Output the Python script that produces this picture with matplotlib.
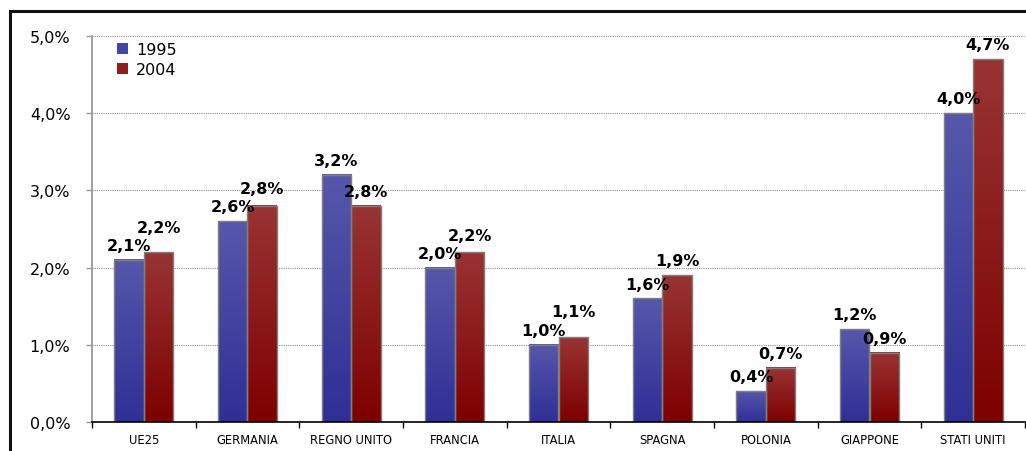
import numpy as np
import matplotlib
matplotlib.use("Agg")
import matplotlib.pyplot as plt
from matplotlib.colors import LinearSegmentedColormap
from matplotlib.patches import Rectangle, Patch
from matplotlib.ticker import FuncFormatter

# data
paesi = ["UE25", "GERMANIA", "REGNO UNITO", "FRANCIA", "ITALIA",
         "SPAGNA", "POLONIA", "GIAPPONE", "STATI UNITI"]
anni = ["1995", "2004"]
val_1995 = [2.1, 2.6, 3.2, 2.0, 1.0, 1.6, 0.4, 1.2, 4.0]
val_2004 = [2.2, 2.8, 2.8, 2.2, 1.1, 1.9, 0.7, 0.9, 4.7]
y_ticks = [0, 1, 2, 3, 4, 5]

# gradient colours (top -> bottom)
blu = LinearSegmentedColormap.from_list("blu", ["#5757AB", "#2F2F96"])
rosso = LinearSegmentedColormap.from_list("rosso", ["#993434", "#7E0000"])


def fmt_pct(v, pos=None):
    return f"{v:.1f}%".replace(".", ",")


fig = plt.figure(figsize=(10.26, 4.52), dpi=100)
ax = fig.add_axes([92 / 1026, 1 - 423 / 452, 933 / 1026, 386 / 452])

# outer black frame of the chart object
fig.patches.append(Rectangle((10 / 1026, -0.1), 1.2, 1 - 12 / 452 + 0.1,
                             transform=fig.transFigure, fill=False,
                             edgecolor="#111111", linewidth=2.2))

x = np.arange(len(paesi))
w = 0.285
grad = np.linspace(0, 1, 256).reshape(-1, 1)
px = 386 / 5.0  # pixels per 1% on the y axis

for serie, altra, cmap, shift in [(val_1995, val_2004, blu, -w / 2),
                                  (val_2004, val_1995, rosso, w / 2)]:
    for xi, v, o in zip(x, serie, altra):
        x0 = xi + shift - w / 2
        ax.imshow(grad, extent=[x0, x0 + w, 0, v], origin="upper",
                  aspect="auto", cmap=cmap, zorder=2, interpolation="bilinear")
        ax.add_patch(Rectangle((x0, 0), w, v, fill=False, edgecolor="#7f7f7f",
                               linewidth=1.0, zorder=3))
        # lift the higher label when the two labels would collide
        off = 5
        if v >= o and (v - o) * px < 18:
            off += (18 - (v - o) * px) * 0.75
        ax.annotate(fmt_pct(v), (xi + shift, v), xytext=(0, off),
                    textcoords="offset points", ha="center", va="bottom",
                    fontsize=11.5, fontweight="bold", color="black", zorder=5)

ax.set_xlim(-0.5, len(paesi) - 0.5)
ax.set_ylim(0, 5)

# grid
ax.set_yticks(y_ticks)
ax.yaxis.set_major_formatter(FuncFormatter(fmt_pct))
for t in y_ticks[1:]:
    ax.axhline(t, color="#8a8a8a", linestyle=(0, (1, 1)), linewidth=0.8, zorder=1)

ax.set_xticks(x)
ax.set_xticklabels(paesi, fontsize=8.3)
ax.set_xticks(np.arange(-0.5, len(paesi)), minor=True)
ax.tick_params(axis="x", which="major", length=0, pad=8)
ax.tick_params(axis="x", which="minor", length=4, width=1, color="black")
ax.tick_params(axis="y", length=4.5, width=1, color="#999999", pad=11,
               labelsize=11.5)

for s in ["top", "right"]:
    ax.spines[s].set_visible(False)
ax.spines["left"].set_color("#999999")
ax.spines["left"].set_linewidth(1.3)
ax.spines["bottom"].set_color("black")
ax.spines["bottom"].set_linewidth(1.2)
ax.spines["bottom"].set_zorder(4)

handles = [Patch(facecolor="#4444A2", edgecolor="none"),
           Patch(facecolor="#8E1E1E", edgecolor="none")]
ax.legend(handles, anni, loc="upper left", bbox_to_anchor=(0.011, 1.022),
          frameon=False, fontsize=11.5, handlelength=0.7, handleheight=0.7,
          handletextpad=0.5, labelspacing=0.35)

fig.savefig("out.png", dpi=100)
